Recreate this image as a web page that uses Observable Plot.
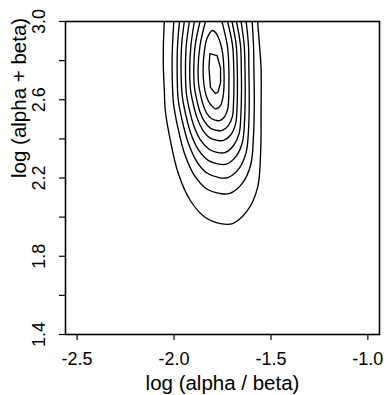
<!DOCTYPE html>
<html>
<head>
<meta charset="utf-8">
<script src="https://cdn.jsdelivr.net/npm/d3@7"></script>
<script src="https://cdn.jsdelivr.net/npm/@observablehq/plot@0.6"></script>
<style>
  html, body { margin: 0; padding: 0; background: #fff; }
  #chart { width: 386px; height: 395px; }
</style>
</head>
<body>
<div id="chart"></div>
<script>
// Axis ticks
const xTicks = [-2.5, -2.0, -1.5, -1.0];
const yLabelTicks = [1.4, 1.8, 2.2, 2.6, 3.0];
const yMinorTicks = [1.4, 1.6, 1.8, 2.0, 2.2, 2.4, 2.6, 2.8, 3.0];
const xTitle = "log (alpha / beta)";
const yTitle = "log (alpha + beta)";

// Contour lines, [log(alpha/beta), log(alpha+beta)]
// outermost (contour1) to innermost (contour10)
const contour1 = [[-2.050,3.000],[-2.055,2.877],[-2.055,2.760],[-2.050,2.647],[-2.045,2.545],[-2.019,2.392],[-1.978,2.223],[-1.916,2.085],[-1.838,1.998],[-1.760,1.967],[-1.698,1.967],[-1.621,2.034],[-1.569,2.151],[-1.553,2.340],[-1.551,2.545],[-1.551,2.760],[-1.559,2.877],[-1.569,3.000]];
const contour2 = [[-2.001,3.000],[-2.008,2.877],[-2.010,2.760],[-2.003,2.584],[-1.981,2.461],[-1.946,2.325],[-1.895,2.213],[-1.833,2.145],[-1.764,2.121],[-1.713,2.121],[-1.647,2.174],[-1.604,2.269],[-1.590,2.419],[-1.586,2.584],[-1.588,2.760],[-1.590,2.877],[-1.597,3.000]];
const contour3 = [[-1.972,3.000],[-1.982,2.877],[-1.984,2.760],[-1.979,2.605],[-1.959,2.498],[-1.927,2.380],[-1.882,2.283],[-1.828,2.224],[-1.768,2.202],[-1.723,2.202],[-1.665,2.248],[-1.628,2.331],[-1.615,2.462],[-1.612,2.605],[-1.614,2.760],[-1.616,2.877],[-1.628,3.000]];
const contour4 = [[-1.947,3.000],[-1.961,2.877],[-1.964,2.760],[-1.958,2.622],[-1.941,2.529],[-1.913,2.426],[-1.873,2.342],[-1.824,2.290],[-1.770,2.271],[-1.730,2.271],[-1.679,2.312],[-1.647,2.384],[-1.636,2.497],[-1.633,2.622],[-1.634,2.760],[-1.638,2.877],[-1.654,3.000]];
const contour5 = [[-1.921,3.000],[-1.937,2.877],[-1.941,2.760],[-1.937,2.637],[-1.922,2.555],[-1.897,2.465],[-1.862,2.392],[-1.819,2.347],[-1.773,2.330],[-1.737,2.330],[-1.693,2.366],[-1.664,2.428],[-1.655,2.528],[-1.652,2.637],[-1.653,2.760],[-1.657,2.877],[-1.678,3.000]];
const contour6 = [[-1.895,3.000],[-1.913,2.877],[-1.919,2.760],[-1.915,2.652],[-1.902,2.583],[-1.881,2.506],[-1.851,2.444],[-1.815,2.405],[-1.775,2.392],[-1.745,2.392],[-1.707,2.421],[-1.683,2.475],[-1.675,2.559],[-1.673,2.652],[-1.674,2.760],[-1.679,2.877],[-1.701,3.000]];
const contour7 = [[-1.866,3.000],[-1.891,2.877],[-1.898,2.760],[-1.895,2.665],[-1.884,2.606],[-1.867,2.540],[-1.842,2.487],[-1.811,2.454],[-1.777,2.443],[-1.752,2.443],[-1.720,2.468],[-1.699,2.514],[-1.693,2.586],[-1.691,2.665],[-1.692,2.760],[-1.698,2.877],[-1.724,3.000]];
const contour8 = [[-1.838,3.000],[-1.866,2.877],[-1.876,2.760],[-1.873,2.678],[-1.864,2.629],[-1.850,2.575],[-1.831,2.530],[-1.806,2.503],[-1.780,2.494],[-1.762,2.494],[-1.738,2.515],[-1.723,2.553],[-1.718,2.612],[-1.717,2.678],[-1.717,2.760],[-1.725,2.877],[-1.753,3.000]];
const contour9 = [[-1.802,2.954],[-1.830,2.913],[-1.843,2.852],[-1.850,2.760],[-1.846,2.678],[-1.833,2.617],[-1.812,2.576],[-1.784,2.553],[-1.760,2.571],[-1.747,2.617],[-1.742,2.678],[-1.743,2.760],[-1.750,2.842],[-1.765,2.903],[-1.786,2.944]];
const contour10 = [[-1.815,2.836],[-1.778,2.826],[-1.760,2.762],[-1.760,2.688],[-1.773,2.639],[-1.786,2.632],[-1.812,2.663],[-1.820,2.765]];

const openContours = [contour1, contour2, contour3, contour4, contour5, contour6, contour7, contour8];

const font = "'Liberation Sans', Arial, Helvetica, sans-serif";
const lineStyle = {x: d => d[0], y: d => d[1], stroke: "black", strokeWidth: 1.35, clip: true};

const chart = Plot.plot({
  width: 386,
  height: 395,
  marginTop: 21,
  marginBottom: 61,
  marginLeft: 65,
  marginRight: 7,
  x: {domain: [-2.56, -0.94]},
  y: {domain: [1.4, 3.0]},
  style: {fontFamily: font, background: "white", color: "black", overflow: "visible"},
  marks: [
    ...openContours.map(c => Plot.line(c, {...lineStyle, curve: "catmull-rom"})),
    Plot.line(contour9, {...lineStyle, curve: "catmull-rom-closed"}),
    Plot.line(contour10, {...lineStyle, curve: "linear-closed"}),
    Plot.frame({stroke: "black", strokeWidth: 1.6}),
    Plot.axisX({ticks: xTicks, tickSize: 6, tickPadding: 12, strokeWidth: 1.2,
      tickFormat: d => d.toFixed(1), fontSize: 18, label: null}),
    Plot.axisY({ticks: yMinorTicks, tickSize: 6, strokeWidth: 1.2,
      tickFormat: () => "", label: null}),
    Plot.text(yLabelTicks, {y: d => d, text: d => d.toFixed(1), frameAnchor: "left",
      dx: -26, rotate: -90, textAnchor: "middle", lineAnchor: "middle", fontSize: 18}),
    Plot.text([xTitle], {text: d => d, frameAnchor: "bottom", dy: 48.5,
      lineAnchor: "middle", fontSize: 20.5}),
    Plot.text([yTitle], {text: d => d, frameAnchor: "left", dx: -46.5, rotate: -90,
      lineAnchor: "middle", fontSize: 20.5})
  ]
});
document.getElementById("chart").appendChild(chart);
</script>
</body>
</html>
